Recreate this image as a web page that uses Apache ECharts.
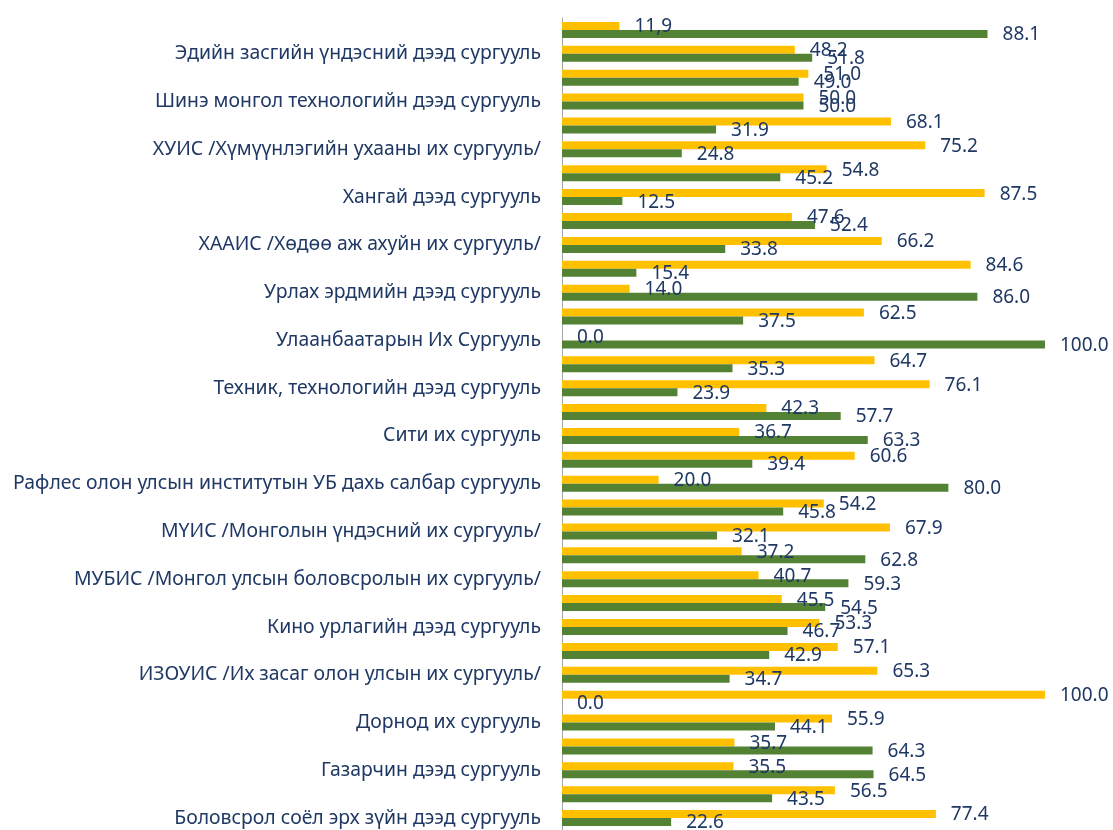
<!DOCTYPE html>
<html>
<head>
<meta charset="utf-8">
<script src="https://cdn.jsdelivr.net/npm/echarts@6/dist/echarts.min.js"></script>
<style>
html,body{margin:0;padding:0;background:#fff;}
#chart{width:1113px;height:830px;}
</style>
</head>
<body>
<div id="chart"></div>
<script>
// Categories from bottom (index 0) to top; only every other name is shown on the axis
const categories = [
  'Боловсрол соёл эрх зүйн дээд сургууль',
  'Гурван-Эрдэнэ дээд сургууль',
  'Газарчин дээд сургууль',
  'Гэрэгэ дээд сургууль',
  'Дорнод их сургууль',
  'Идэр их сургууль',
  'ИЗОУИС /Их засаг олон улсын их сургууль/',
  'Ирээдүй дээд сургууль',
  'Кино урлагийн дээд сургууль',
  'Мандах их сургууль',
  'МУБИС /Монгол улсын боловсролын их сургууль/',
  'Монгол-Германы хамтарсан технологийн их сургууль',
  'МҮИС /Монголын үндэсний их сургууль/',
  'Отгонтэнгэр их сургууль',
  'Рафлес олон улсын институтын УБ дахь салбар сургууль',
  'Соёл урлагийн их сургууль',
  'Сити их сургууль',
  'ШУТИС /Шинжлэх ухаан технологийн их сургууль/',
  'Техник, технологийн дээд сургууль',
  'Улаанбаатар эрдэм их сургууль',
  'Улаанбаатарын Их Сургууль',
  'Урлах эрдэм коллеж',
  'Урлах эрдмийн дээд сургууль',
  'Хан-Уул дээд сургууль',
  'ХААИС /Хөдөө аж ахуйн их сургууль/',
  'Хүмүүнлэгийн дээд сургууль',
  'Хангай дээд сургууль',
  'Хүрээ дээд сургууль',
  'ХУИС /Хүмүүнлэгийн ухааны их сургууль/',
  'Шинэ монгол дээд сургууль',
  'Шинэ монгол технологийн дээд сургууль',
  'Этүгэн их сургууль',
  'Эдийн засгийн үндэсний дээд сургууль',
  'Эрдэм дээд сургууль'
];

// Yellow series (upper bar in each pair), bottom to top
const yellowValues = [77.4, 56.5, 35.5, 35.7, 55.9, 100.0, 65.3, 57.1, 53.3, 45.5,
  40.7, 37.2, 67.9, 54.2, 20.0, 60.6, 36.7, 42.3, 76.1, 64.7,
  0.0, 62.5, 14.0, 84.6, 66.2, 47.6, 87.5, 54.8, 75.2, 68.1,
  50.0, 51.0, 48.2, 11.9];

// Green series (lower bar in each pair), bottom to top
const greenValues = [22.6, 43.5, 64.5, 64.3, 44.1, 0.0, 34.7, 42.9, 46.7, 54.5,
  59.3, 62.8, 32.1, 45.8, 80.0, 39.4, 63.3, 57.7, 23.9, 35.3,
  100.0, 37.5, 86.0, 15.4, 33.8, 52.4, 12.5, 45.2, 24.8, 31.9,
  50.0, 49.0, 51.8, 88.1];

// Label text written differently in the source (index -> text)
const yellowLabelOverrides = { 33: '11,9' };

const seriesNames = ['Эмэгтэй', 'Эрэгтэй'];
const colors = ['#FFC000', '#548235'];
const textColor = '#1F3864';
const fontFamily = '"Noto Sans", "Open Sans", sans-serif';

const chart = echarts.init(document.getElementById('chart'), null, { renderer: 'canvas' });

function labelCfg(overrides) {
  return {
    show: true,
    position: 'right',
    distance: 15,
    offset: [0, 1],
    color: textColor,
    fontSize: 19,
    fontFamily: fontFamily,
    formatter: function (p) {
      if (overrides && overrides[p.dataIndex] !== undefined) return overrides[p.dataIndex];
      return Number(p.value).toFixed(1);
    }
  };
}

chart.setOption({
  animation: false,
  backgroundColor: '#ffffff',
  grid: { left: 562, right: 68, top: 18, bottom: -2, containLabel: false },
  xAxis: {
    type: 'value',
    min: 0,
    max: 100,
    show: true,
    axisLine: { show: false },
    axisTick: { show: false },
    axisLabel: { show: false },
    splitLine: { show: false }
  },
  yAxis: {
    type: 'category',
    data: categories,
    axisLine: { show: true, lineStyle: { color: '#A6A6A6', width: 1 } },
    axisTick: { show: false },
    axisLabel: {
      interval: 1,
      color: textColor,
      fontSize: 19.4,
      fontFamily: fontFamily,
      margin: 21
    },
    splitLine: { show: false }
  },
  series: [
    {
      name: seriesNames[0],
      type: 'bar',
      data: yellowValues,
      barWidth: 8,
      barGap: '0%',
      itemStyle: { color: colors[0] },
      label: labelCfg(yellowLabelOverrides)
    },
    {
      name: seriesNames[1],
      type: 'bar',
      data: greenValues,
      barWidth: 8,
      barGap: '0%',
      itemStyle: { color: colors[1] },
      label: labelCfg(null)
    }
  ]
});
</script>
</body>
</html>
